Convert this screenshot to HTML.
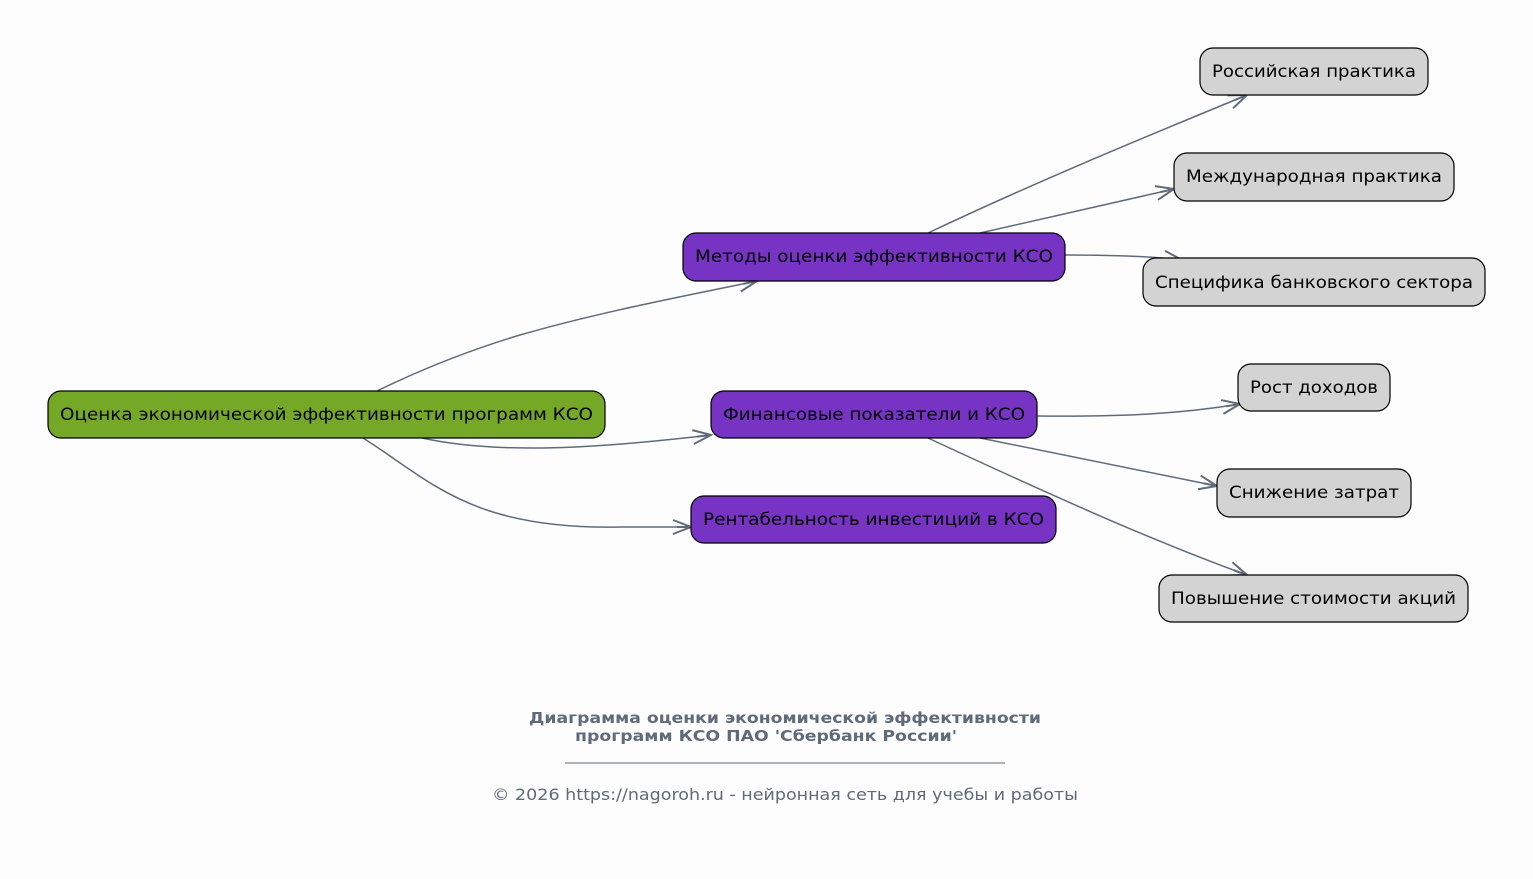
<!DOCTYPE html>
<html><head><meta charset="utf-8"><style>
html,body{margin:0;padding:0;background:#fdfdfd;}
svg{display:block;font-family:"DejaVu Sans","Liberation Sans",sans-serif;}
</style></head><body>
<svg width="1533" height="879" viewBox="0 0 1533 879" xmlns="http://www.w3.org/2000/svg">
<defs>
<marker id="a" markerUnits="userSpaceOnUse" markerWidth="24" markerHeight="20" refX="20" refY="10" orient="auto">
<path d="M2,3 L20,10 L2,17 M20,10 L6,10" fill="none" stroke="#5f6b7a" stroke-width="2"/>
</marker>
</defs>
<rect width="1533" height="879" fill="#fdfdfd"/>
<g fill="none" stroke="#5f6b7a" stroke-width="1.5" marker-end="url(#a)">
<path d="M377,391 C420,370 470,350 520,335 C600,312 680,297 757,281"/>
<path d="M422,438 C500,455 600,448 711,435"/>
<path d="M363,438 C430,480 470,530 620,527 L691,527"/>
<path d="M928,233 C1040,180 1150,135 1247,95"/>
<path d="M980,233 L1174,189"/>
<path d="M1065,255 C1110,255 1150,256 1182,260"/>
<path d="M1037,416 C1120,417 1180,414 1240,404"/>
<path d="M980,438 L1217,486"/>
<path d="M928,438 C1040,490 1150,540 1247,575"/>
</g>
<g stroke="#000" stroke-width="1.2">
<rect x="48" y="391" width="557" height="47" rx="13" fill="#76a828"/>
<rect x="683" y="233" width="382" height="48" rx="13" fill="#7733c4"/>
<rect x="711" y="391" width="326" height="47" rx="13" fill="#7733c4"/>
<rect x="691" y="496" width="365" height="47" rx="13" fill="#7733c4"/>
<rect x="1200" y="48" width="228" height="47" rx="13" fill="#d3d3d3"/>
<rect x="1174" y="153" width="280" height="48" rx="13" fill="#d3d3d3"/>
<rect x="1143" y="258" width="342" height="48" rx="13" fill="#d3d3d3"/>
<rect x="1238" y="364" width="152" height="47" rx="13" fill="#d3d3d3"/>
<rect x="1217" y="469" width="194" height="48" rx="13" fill="#d3d3d3"/>
<rect x="1159" y="575" width="309" height="47" rx="13" fill="#d3d3d3"/>
</g>
<g font-size="17" fill="#000" text-anchor="middle" lengthAdjust="spacingAndGlyphs">
<text x="326.5" y="420" textLength="533" lengthAdjust="spacingAndGlyphs">Оценка экономической эффективности программ КСО</text>
<text x="874" y="262" textLength="358" lengthAdjust="spacingAndGlyphs">Методы оценки эффективности КСО</text>
<text x="874" y="420" textLength="302" lengthAdjust="spacingAndGlyphs">Финансовые показатели и КСО</text>
<text x="873.5" y="525" textLength="341" lengthAdjust="spacingAndGlyphs">Рентабельность инвестиций в КСО</text>
<text x="1314" y="77" textLength="204" lengthAdjust="spacingAndGlyphs">Российская практика</text>
<text x="1314" y="182" textLength="256" lengthAdjust="spacingAndGlyphs">Международная практика</text>
<text x="1314" y="288" textLength="318" lengthAdjust="spacingAndGlyphs">Специфика банковского сектора</text>
<text x="1314" y="393" textLength="128" lengthAdjust="spacingAndGlyphs">Рост доходов</text>
<text x="1314" y="498" textLength="170" lengthAdjust="spacingAndGlyphs">Снижение затрат</text>
<text x="1313.5" y="604" textLength="285" lengthAdjust="spacingAndGlyphs">Повышение стоимости акций</text>
</g>
<g fill="#5f6b7a" text-anchor="middle">
<text x="785" y="723" font-size="15" font-weight="bold" textLength="512" lengthAdjust="spacingAndGlyphs">Диаграмма оценки экономической эффективности</text>
<text x="766" y="741" font-size="15" font-weight="bold" textLength="382" lengthAdjust="spacingAndGlyphs">программ КСО ПАО 'Сбербанк России'</text>
<line x1="565" y1="763" x2="1005" y2="763" stroke="#5f6b7a" stroke-width="1"/>
<text x="785" y="800" font-size="16" textLength="586" lengthAdjust="spacingAndGlyphs">© 2026 https://nagoroh.ru - нейронная сеть для учебы и работы</text>
</g>
</svg>
</body></html>
